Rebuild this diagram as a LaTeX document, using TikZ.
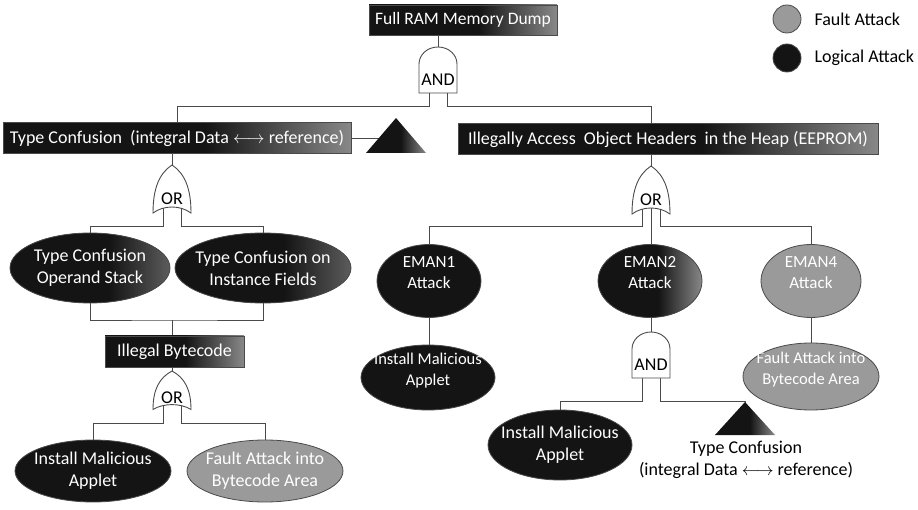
\documentclass[tikz,border=0pt]{standalone}
\usepackage{fontspec}
\setmainfont{Carlito}
\usetikzlibrary{shapes.geometric}

\definecolor{dk}{HTML}{141414}
\definecolor{faultgray}{HTML}{9A9A9A}
\definecolor{lc}{HTML}{4A4A4A}
\definecolor{fadeR}{HTML}{888888}
\definecolor{fadeM}{HTML}{5C5C5C}

% dark fill that turns grey towards the right edge
\pgfdeclarehorizontalshading{darkfade}{100bp}{color(0bp)=(dk); color(54bp)=(dk); color(75bp)=(fadeR); color(100bp)=(fadeR)}
\pgfdeclarehorizontalshading{softfade}{100bp}{color(0bp)=(dk); color(56bp)=(dk); color(75bp)=(fadeM); color(100bp)=(fadeM)}

\pgfdeclarelayer{bg}
\pgfsetlayers{bg,main}

\newcommand{\biarrow}{$\longleftrightarrow$}

\begin{document}
\begin{tikzpicture}[x=1pt, y=-1pt,
  font=\fontsize{18}{22}\selectfont,
  line width=1pt,
  event/.style={draw=lc, line width=0.8pt, shading=darkfade, text=white, inner sep=0pt, minimum height=31},
  logic/.style={ellipse, draw=lc, line width=0.8pt, fill=dk, text=white, align=center, inner sep=-40pt},
  fault/.style={ellipse, draw=lc, line width=0.8pt, fill=faultgray, text=white, align=center, inner sep=-40pt},
  intext/.style={text=white, align=center, inner sep=0pt},
  small/.style={font=\fontsize{17}{21}\selectfont},
  smaller/.style={font=\fontsize{16.5}{20.5}\selectfont},
  conn/.style={draw=lc},
  gate/.style={draw=lc, line width=0.9pt, fill=white},
  andgate/.pic={
    \path[gate] (-19,46) -- (-19,17) .. controls (-19,7.6) and (-10.5,0) .. (0,0)
      .. controls (10.5,0) and (19,7.6) .. (19,17) -- (19,46) -- cycle;
    \node[inner sep=0pt] at (0,33) {AND};
    \coordinate (-in) at (0,0);
    \coordinate (-l) at (-9,46);
    \coordinate (-r) at (9,46);
  },
  orgate/.pic={
    \path[gate] (0,0) .. controls (12,8) and (19,22) .. (19,48)
      .. controls (8,40) and (-8,40) .. (-19,48)
      .. controls (-19,22) and (-12,8) .. (0,0) -- cycle;
    \node[inner sep=0pt] at (0,34) {OR};
    \coordinate (-in) at (0,0);
    \coordinate (-l) at (-9,43);
    \coordinate (-r) at (9,43);
    \coordinate (-m) at (0,41);
  }
]
\useasboundingbox (0,0) rectangle (918,510);

% intermediate events
\node[event, minimum width=188, minimum height=30, font=\fontsize{17.5}{21}\selectfont] (top) at (463,20) {Full RAM Memory Dump};
\node[event, minimum width=348] (tc) at (177,138) {Type Confusion\ \ (integral Data \biarrow{} reference)};
\node[event, minimum width=420] (ia) at (668,139) {Illegally Access\ \ Object Headers\ \ in the Heap (EEPROM)};
\node[event, minimum width=139] (ib) at (174.5,351.5) {Illegal Bytecode};

% gates
\pic (g1) at (438,47) {andgate};
\pic (lor) at (172,165) {orgate};
\pic (ror) at (651,166) {orgate};
\pic[yscale=0.8] (lor2) at (172,371) {orgate};
\pic (g2) at (651,332) {andgate};

% basic events, left branch
\node[logic, shading=softfade, minimum width=160, minimum height=70] (tco) at (90,268) {Type Confusion\\Operand Stack};
\node[logic, shading=softfade, minimum width=176, minimum height=70] (tcf) at (263,268) {Type Confusion on\\Instance Fields};
\node[logic, minimum width=156, minimum height=62] (ima) at (93,471) {Install Malicious\\Applet};
\node[fault, minimum width=156, minimum height=62] (fab) at (265,471) {Fault Attack into\\Bytecode Area};

% basic events, right branch (labels sit above the ellipse centre)
\node[logic, minimum width=104, minimum height=73,
  label={[intext, small, yshift=8pt]center:EMAN1\\Attack}] (e1) at (429,281) {};
\node[logic, shading=darkfade, minimum width=104, minimum height=73,
  label={[intext, small, yshift=8pt]center:EMAN2\\Attack}] (e2) at (650,281) {};
\node[fault, minimum width=100, minimum height=73,
  label={[intext, small, yshift=8pt]center:EMAN4\\Attack}] (e4) at (811,281) {};
\node[logic, minimum width=134, minimum height=65,
  label={[intext, smaller, yshift=7pt]center:Install Malicious\\Applet}] (imb) at (428,377.5) {};
\node[fault, minimum width=136, minimum height=67,
  label={[intext, smaller, yshift=7pt]center:Fault Attack into\\Bytecode Area}] (fac) at (811,376.5) {};
\node[logic, minimum width=144, minimum height=70] (imc) at (560,445) {Install Malicious\\Applet};

% transfer triangles
\shade[shading=darkfade] (366,153) -- (396,118) -- (426,153) -- cycle;
\coordinate (t1) at (381,138);
\shade[shading=darkfade] (715,435) -- (745,402) -- (775,435) -- cycle;
\coordinate (t2) at (745,403);
\node[align=center, inner sep=0pt] (tcl) at (746,460) {Type Confusion\\(integral Data \biarrow{} reference)};

% legend
\node[circle, draw=lc, line width=0.8pt, fill=faultgray, minimum size=28, inner sep=0pt] (lf) at (787,19) {};
\node[anchor=west, inner sep=0pt] (lft) at (814,19) {Fault Attack};
\node[circle, draw=lc, line width=0.8pt, fill=dk, minimum size=28, inner sep=0pt] (ll) at (787,58) {};
\node[anchor=west, inner sep=0pt] (llt) at (814,58) {Logical Attack};

% connectors
\begin{pgfonlayer}{bg}
\draw[conn] (top.south -| g1-in) -- (g1-in);
\draw[conn] (g1-l) -- ++(0,13) -| (tc.north);
\draw[conn] (g1-r) -- ++(0,13) -| (ia.north -| ror-in);
\draw[conn] (tc.east) -- (t1);

\draw[conn] (tc.south -| lor-in) -- (lor-in);
\draw[conn] (lor-l) -- ++(0,18) -| (tco.north);
\draw[conn] (lor-r) -- ++(0,18) -| (tcf.north);
\coordinate (j1) at (172,320);
\draw[conn] (tco.south) |- (j1) -| (tcf.south);
\draw[conn] (j1) -- (j1 |- ib.north);
\draw[conn] (ib.south -| lor2-in) -- (lor2-in);
\draw[conn] (lor2-l) -- ++(0,17.5) -| (ima.north);
\draw[conn] (lor2-r) -- ++(0,17.5) -| (fab.north);

\draw[conn] (ia.south -| ror-in) -- (ror-in);
\draw[conn] (ror-l) -- ++(0,17) -| (e1.north);
\draw[conn] (ror-r) -- ++(0,17) -| (e4.north);
\draw[conn] (ror-m) -- (e2.north -| ror-m);
\draw[conn] (e1.south) -- (e1.south |- imb.north);
\draw[conn] (e4.south) -- (e4.south |- fac.north);
\draw[conn] (e2.south -| g2-in) -- (g2-in);
\draw[conn] (g2-l) -- ++(0,23) -| (imc.north);
\draw[conn] (g2-r) -- ++(0,23) -| (t2);
\end{pgfonlayer}
\end{tikzpicture}
\end{document}
